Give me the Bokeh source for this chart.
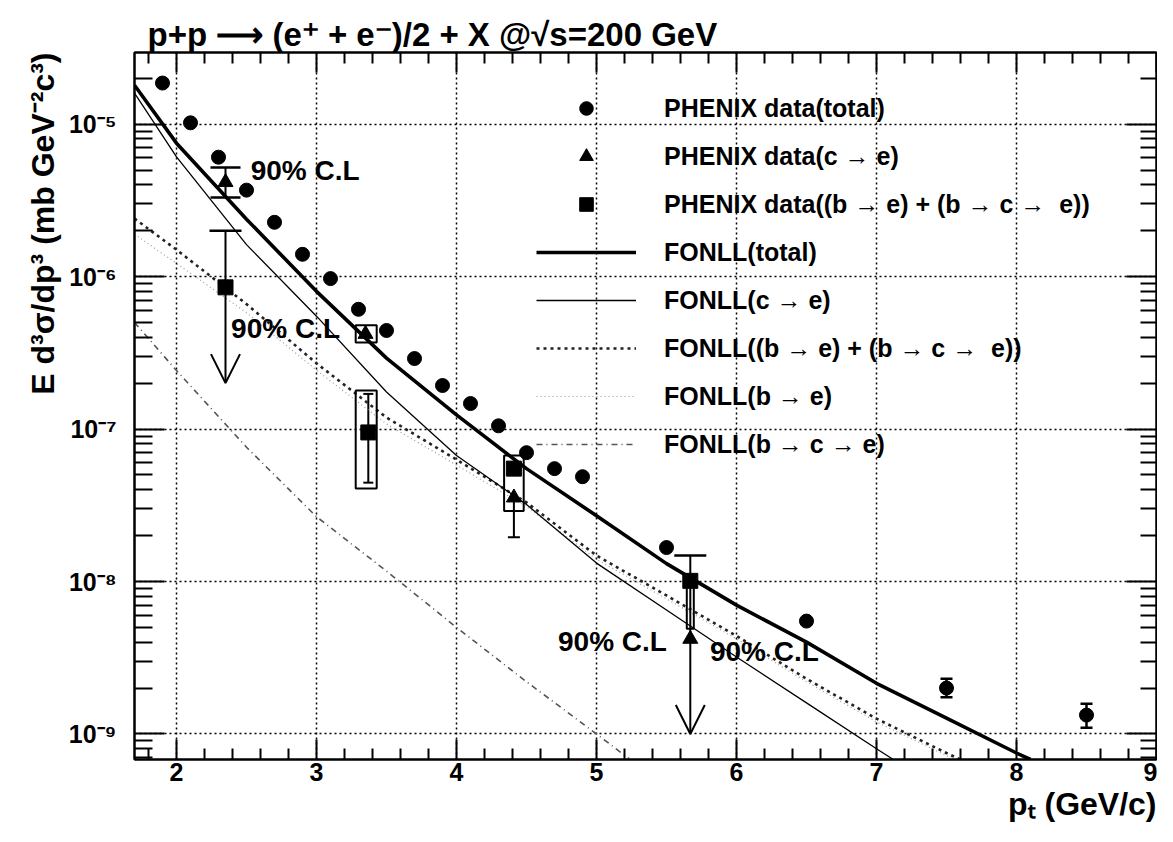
import math
from bokeh.plotting import figure
from bokeh.models import (ColumnDataSource, Legend, LegendItem, Label, Whisker, TeeHead,
                          Arrow, OpenHead, LogAxis, LinearAxis, FixedTicker,
                          CustomJSTickFormatter, Range1d, Title)
from bokeh.embed import file_html
from bokeh.resources import INLINE

# ---------------- data ----------------
# PHENIX data (total)
pt_total = [1.9, 2.1, 2.3, 2.5, 2.7, 2.9, 3.1, 3.3, 3.5, 3.7, 3.9, 4.1, 4.3, 4.5, 4.7, 4.9,
            5.5, 6.5, 7.5, 8.5]
y_total = [1.86e-5, 1.02e-5, 6.07e-6, 3.69e-6, 2.27e-6, 1.40e-6, 9.7e-7, 6.1e-7, 4.43e-7,
           2.9e-7, 1.93e-7, 1.47e-7, 1.05e-7, 7.0e-8, 5.5e-8, 4.87e-8, 1.67e-8, 5.5e-9,
           2.0e-9, 1.33e-9]
# visible statistical errors of the two highest points
pt_total_err = [7.5, 8.5]
y_total_hi = [2.3e-9, 1.58e-9]
y_total_lo = [1.74e-9, 1.10e-9]

# PHENIX data (c -> e)
pt_c = [2.35, 3.35, 4.41, 5.67]
y_c = [4.16e-6, 4.2e-7, 3.55e-8, 4.2e-9]

# PHENIX data (b -> e) + (b -> c -> e)
pt_b = [2.35, 3.37, 4.41, 5.67]
y_b = [8.5e-7, 9.5e-8, 5.5e-8, 1.01e-8]

# systematic boxes
box_left = [3.28, 3.28, 4.34, 5.645]
box_right = [3.43, 3.43, 4.48, 5.695]
box_top = [4.8e-7, 1.79e-7, 6.7e-8, 9.2e-9]
box_bottom = [3.7e-7, 4.07e-8, 2.9e-8, 4.9e-9]

# wide capped error (c->e at 2.35)
wide_x = [2.35]
wide_hi = [5.2e-6]
wide_lo = [3.3e-6]

# upper caps of the b data upper limits
ul_x = [2.35, 5.67]
ul_top = [2.0e-6, 1.48e-8]
ul_base = [8.5e-7, 1.01e-8]
# 90% C.L arrows
arr_x = [2.35, 5.67]
arr_from = [8.5e-7, 1.01e-8]
arr_to = [2.0e-7, 1.0e-9]

# small capped errors
small_x = [3.37]
small_hi = [1.7e-7]
small_lo = [4.45e-8]
low_x = [4.41]
low_hi = [3.55e-8]
low_lo = [1.95e-8]

# FONLL curves
fx_total = [1.7, 2.0, 2.5, 3.0, 3.5, 4.0, 4.5, 5.0, 5.5, 6.0, 6.5, 7.0, 7.5, 8.0, 8.1]
fy_total = [1.8e-5, 7.5e-6, 2.38e-6, 8.0e-7, 2.92e-7, 1.24e-7, 5.5e-8, 2.7e-8, 1.31e-8,
            7.0e-9, 4.0e-9, 2.15e-9, 1.27e-9, 7.5e-10, 6.8e-10]

fx_c = [1.7, 2.0, 2.5, 3.0, 3.5, 4.0, 4.5, 5.0, 5.5, 6.0, 6.5, 7.0, 7.12]
fy_c = [1.6e-5, 6.1e-6, 1.62e-6, 5.5e-7, 1.75e-7, 6.7e-8, 3.2e-8, 1.32e-8, 6.5e-9, 3.2e-9,
        1.6e-9, 8.0e-10, 6.8e-10]

fx_bsum = [1.7, 2.0, 2.5, 3.0, 3.5, 4.0, 4.5, 5.0, 5.5, 6.0, 6.5, 7.0, 7.5, 7.6]
fy_bsum = [2.4e-6, 1.5e-6, 6.6e-7, 2.7e-7, 1.19e-7, 6.3e-8, 3.3e-8, 1.48e-8, 8.1e-9, 4.4e-9,
           2.3e-9, 1.26e-9, 7.5e-10, 6.8e-10]

fx_be = [1.7, 2.0, 2.5, 3.0, 3.5, 4.0, 4.5, 5.0, 5.5, 6.0, 6.5, 7.0, 7.5, 7.55]
fy_be = [1.9e-6, 1.22e-6, 5.8e-7, 2.43e-7, 1.08e-7, 5.8e-8, 3.1e-8, 1.4e-8, 7.7e-9, 4.2e-9,
         2.2e-9, 1.2e-9, 7.2e-10, 6.8e-10]

fx_bce = [1.7, 2.0, 2.5, 3.0, 3.5, 4.0, 4.5, 5.0, 5.24]
fy_bce = [5.0e-7, 2.42e-7, 7.6e-8, 2.66e-8, 1.17e-8, 5.0e-9, 2.2e-9, 1.0e-9, 6.8e-10]

# axes
x_major = [2, 3, 4, 5, 6, 7, 8, 9]
y_major = [1e-9, 1e-8, 1e-7, 1e-6, 1e-5]

# annotation texts (position in data coordinates)
cl_x = [2.53, 2.39, 4.725, 5.81]
cl_y = [5.0e-6, 4.57e-7, 4.07e-9, 3.5e-9]

ARW = "\u2192"
labels = ["PHENIX data(total)", f"PHENIX data(c {ARW} e)",
          f"PHENIX data((b {ARW} e) + (b {ARW} c {ARW}  e))", "FONLL(total)",
          f"FONLL(c {ARW} e)", f"FONLL((b {ARW} e) + (b {ARW} c {ARW}  e))",
          f"FONLL(b {ARW} e)", f"FONLL(b {ARW} c {ARW} e)"]
title_text = "p+p \u27f6 (e\u207a + e\u207b)/2 + X @\u221as=200 GeV"
ylabel_text = "E d\u00b3\u03c3/dp\u00b3 (mb GeV\u207b\u00b2c\u00b3)"
xlabel_text = "p\u209c (GeV/c)"

FONT = "Liberation Sans"

# ---------------- figure ----------------
p = figure(width=1157, height=826, x_range=Range1d(1.7, 9.0),
           y_range=Range1d(6.8e-10, 2.95e-5), y_axis_type="log",
           output_backend="svg", toolbar_location=None,
           min_border_left=134, min_border_right=1, min_border_top=52,
           min_border_bottom=67)
p.background_fill_color = "white"
p.border_fill_color = "white"
p.outline_line_color = "black"
p.outline_line_width = 2

p.title.text = title_text
p.title.align = "left"
p.title.offset = 13
p.title.standoff = 0
p.title.text_font = FONT
p.title.text_font_style = "bold"
p.title.text_font_size = "33px"
p.title.text_color = "black"

x_minor = [round(1.8 + 0.2 * i, 2) for i in range(37)
           if abs((1.8 + 0.2 * i) - round(1.8 + 0.2 * i)) > 1e-6]
y_minor = [m * 10.0 ** e for e in range(-10, -4) for m in range(2, 10)]
xt = FixedTicker(ticks=x_major, minor_ticks=x_minor)
yt = FixedTicker(ticks=y_major, minor_ticks=y_minor)

fmt = CustomJSTickFormatter(code="""
const e = Math.round(Math.log10(tick));
const m = {"-":"\u207b","0":"\u2070","1":"\u00b9","2":"\u00b2","3":"\u00b3","4":"\u2074",
           "5":"\u2075","6":"\u2076","7":"\u2077","8":"\u2078","9":"\u2079"};
return "10" + String(e).split("").map(c => m[c]).join("");
""")
blank = CustomJSTickFormatter(code="return ''")

def style_axis(ax, major_in, minor_in, labels=True):
    ax.axis_line_width = 2
    ax.axis_line_color = "black"
    ax.major_tick_in = major_in
    ax.major_tick_out = 0
    ax.minor_tick_in = minor_in
    ax.minor_tick_out = 0
    ax.major_tick_line_width = 2
    ax.minor_tick_line_width = 2
    ax.major_tick_line_color = "black"
    ax.minor_tick_line_color = "black"
    if labels:
        ax.major_label_text_font = FONT
        ax.major_label_text_font_style = "bold"
        ax.major_label_text_font_size = "25px"
        ax.major_label_text_color = "black"
    else:
        ax.formatter = blank
        ax.major_label_text_font_size = "1px"
        ax.major_label_standoff = 0

bx = p.xaxis[0]
bx.ticker = xt
style_axis(bx, 20, 11)
bx.major_label_standoff = 3

ly = p.yaxis[0]
ly.ticker = yt
ly.formatter = fmt
style_axis(ly, 30, 18)
ly.major_label_standoff = 18

top = LinearAxis(ticker=xt)
style_axis(top, 20, 11, labels=False)
p.add_layout(top, "above")
right = LogAxis(ticker=yt)
style_axis(right, 30, 16, labels=False)
p.add_layout(right, "right")

# axis titles
p.add_layout(Title(text=ylabel_text, align="right", standoff=10, text_font=FONT,
                   text_font_style="bold", text_font_size="32px", text_color="black"),
             "left")
p.add_layout(Title(text=xlabel_text, align="right", standoff=0, text_font=FONT,
                   text_font_style="bold", text_font_size="32px", text_color="black"),
             "below")

p.xgrid.ticker = xt
p.ygrid.ticker = yt
for g in (p.xgrid[0], p.ygrid[0]):
    g.grid_line_color = "black"
    g.grid_line_dash = "2 3"
    g.grid_line_width = 1.5
    g.grid_line_alpha = 1.0

# ---------------- curves ----------------
r_bce = p.line(fx_bce, fy_bce, line_color="#555555", line_width=1.6, line_dash="6 4 1 4")
r_be = p.line(fx_be, fy_be, line_color="#9a9a9a", line_width=1.2, line_dash="1 3")
r_bsum = p.line(fx_bsum, fy_bsum, line_color="#222222", line_width=2.6, line_dash="3 4")
r_c = p.line(fx_c, fy_c, line_color="black", line_width=1.3)
r_tot = p.line(fx_total, fy_total, line_color="black", line_width=3.6)

# ---------------- data decorations ----------------
p.quad(left=box_left, right=box_right, top=box_top, bottom=box_bottom,
       fill_alpha=0, line_color="black", line_width=2)

s_wide = ColumnDataSource(dict(x=wide_x, hi=wide_hi, lo=wide_lo))
p.add_layout(Whisker(source=s_wide, base="x", upper="hi", lower="lo", dimension="height",
                     line_width=2,
                     upper_head=TeeHead(size=30, line_width=2.5),
                     lower_head=TeeHead(size=30, line_width=2.5)))

s_ul = ColumnDataSource(dict(x=ul_x, hi=ul_top, lo=ul_base))
p.add_layout(Whisker(source=s_ul, base="x", upper="hi", lower="lo", dimension="height",
                     line_width=2,
                     upper_head=TeeHead(size=32, line_width=2.5), lower_head=None))

s_small = ColumnDataSource(dict(x=small_x, hi=small_hi, lo=small_lo))
p.add_layout(Whisker(source=s_small, base="x", upper="hi", lower="lo", dimension="height",
                     line_width=2,
                     upper_head=TeeHead(size=10, line_width=2),
                     lower_head=TeeHead(size=10, line_width=2)))

s_low = ColumnDataSource(dict(x=low_x, hi=low_hi, lo=low_lo))
p.add_layout(Whisker(source=s_low, base="x", upper="hi", lower="lo", dimension="height",
                     line_width=2, upper_head=None,
                     lower_head=TeeHead(size=12, line_width=2)))

s_terr = ColumnDataSource(dict(x=pt_total_err, hi=y_total_hi, lo=y_total_lo))
p.add_layout(Whisker(source=s_terr, base="x", upper="hi", lower="lo", dimension="height",
                     line_width=2.5,
                     upper_head=TeeHead(size=12, line_width=2.5),
                     lower_head=TeeHead(size=12, line_width=2.5)))

# ---------------- markers ----------------
r_tp = p.scatter(pt_total, y_total, marker="circle", size=14, fill_color="black",
                 line_color="black")
r_cp = p.scatter(pt_c, y_c, marker="triangle", size=15, fill_color="black",
                 line_color="black")
r_bp = p.scatter(pt_b, y_b, marker="square", size=15, fill_color="black",
                 line_color="black")

# ---------------- legend ----------------
rends = [r_tp, r_cp, r_bp, r_tot, r_c, r_bsum, r_be, r_bce]
legend = Legend(items=[LegendItem(label=l, renderers=[r]) for l, r in zip(labels, rends)],
                location=(402, 298), glyph_width=100, glyph_height=34, label_height=34,
                spacing=14, label_standoff=28, padding=0, margin=0,
                border_line_alpha=0, background_fill_alpha=0,
                label_text_font=FONT, label_text_font_style="bold",
                label_text_font_size="25px", label_text_color="black")
p.add_layout(legend)

# ---------------- annotations ----------------
for xx, yy in zip(cl_x, cl_y):
    p.add_layout(Label(x=xx, y=yy, text="90% C.L", text_font=FONT,
                       text_font_style="bold", text_font_size="28px",
                       text_color="black", text_baseline="alphabetic"))

# arrows (90% C.L upper limits)
for i in range(len(arr_x)):
    p.add_layout(Arrow(x_start=arr_x[i], y_start=arr_from[i], x_end=arr_x[i],
                       y_end=arr_to[i], line_width=2, line_color="black",
                       end=OpenHead(size=29, line_width=2, line_color="black")))

open("out.html", "w").write(file_html(p, INLINE))
